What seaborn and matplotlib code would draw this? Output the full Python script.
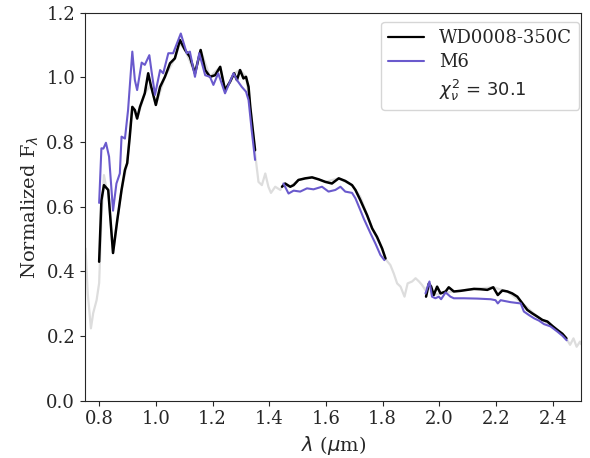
import seaborn as sns
import matplotlib.pyplot as plt
from matplotlib.lines import Line2D

# full (telluric-included) spectrum, light gray
full_wave = [0.752, 0.760, 0.771, 0.779, 0.791, 0.800, 0.808, 0.817, 0.825, 0.832, 0.849,
             0.864, 0.879, 0.899, 0.917, 0.934, 0.961, 0.982, 1.000, 1.032, 1.067, 1.085,
             1.103, 1.138, 1.158, 1.191, 1.227, 1.244, 1.276, 1.297, 1.318, 1.333, 1.350,
             1.362, 1.374, 1.386, 1.397, 1.406, 1.421, 1.439, 1.448, 1.474, 1.503, 1.551,
             1.598, 1.645, 1.692, 1.721, 1.763, 1.798, 1.810, 1.827, 1.839, 1.851, 1.863,
             1.877, 1.888, 1.904, 1.916, 1.928, 1.939, 1.951, 1.963, 1.980, 2.004, 2.051,
             2.122, 2.190, 2.240, 2.293, 2.346, 2.399, 2.434, 2.450, 2.461, 2.473, 2.484,
             2.496, 2.500]
full_flux = [0.471, 0.330, 0.224, 0.271, 0.311, 0.364, 0.560, 0.698, 0.660, 0.652, 0.457,
             0.559, 0.652, 0.735, 0.909, 0.873, 0.951, 0.977, 0.915, 1.002, 1.059, 1.105,
             1.085, 1.013, 1.085, 1.002, 1.033, 0.961, 1.013, 1.023, 1.002, 0.909, 0.765,
             0.677, 0.667, 0.703, 0.662, 0.643, 0.662, 0.652, 0.667, 0.662, 0.683, 0.691,
             0.677, 0.688, 0.667, 0.631, 0.533, 0.471, 0.438, 0.420, 0.394, 0.363, 0.353,
             0.322, 0.363, 0.369, 0.379, 0.369, 0.358, 0.342, 0.363, 0.327, 0.332, 0.338,
             0.346, 0.351, 0.338, 0.301, 0.260, 0.231, 0.207, 0.189, 0.173, 0.193, 0.167,
             0.183, 0.175]

# WD0008-350C observed spectrum, three bands
wd_wave1 = [0.800, 0.808, 0.817, 0.832, 0.849, 0.864, 0.879, 0.891, 0.899, 0.908, 0.917,
            0.926, 0.934, 0.944, 0.961, 0.973, 0.982, 0.991, 1.000, 1.015, 1.032, 1.050,
            1.067, 1.085, 1.103, 1.120, 1.138, 1.158, 1.174, 1.191, 1.209, 1.227, 1.244,
            1.262, 1.276, 1.286, 1.297, 1.309, 1.318, 1.327, 1.333, 1.342, 1.350]
wd_flux1 = [0.430, 0.620, 0.667, 0.652, 0.457, 0.559, 0.652, 0.714, 0.735, 0.817, 0.909,
            0.899, 0.873, 0.909, 0.951, 1.013, 0.977, 0.946, 0.915, 0.971, 1.002, 1.044,
            1.059, 1.116, 1.085, 1.064, 1.013, 1.085, 1.023, 1.002, 1.007, 1.033, 0.961,
            0.987, 1.013, 0.992, 1.023, 0.997, 1.002, 0.971, 0.909, 0.837, 0.775]
wd_wave2 = [1.445, 1.456, 1.474, 1.486, 1.503, 1.527, 1.551, 1.574, 1.598, 1.621, 1.645,
            1.668, 1.692, 1.704, 1.721, 1.745, 1.763, 1.780, 1.798, 1.810]
wd_flux2 = [0.662, 0.672, 0.662, 0.667, 0.683, 0.688, 0.691, 0.685, 0.677, 0.672, 0.688,
            0.680, 0.667, 0.652, 0.621, 0.574, 0.533, 0.507, 0.471, 0.440]
wd_wave3 = [1.953, 1.963, 1.971, 1.980, 1.992, 2.004, 2.022, 2.033, 2.051, 2.075, 2.098,
            2.122, 2.145, 2.169, 2.190, 2.206, 2.222, 2.240, 2.257, 2.275, 2.293, 2.310,
            2.328, 2.346, 2.363, 2.381, 2.399, 2.416, 2.434, 2.448]
wd_flux3 = [0.322, 0.363, 0.353, 0.327, 0.353, 0.332, 0.338, 0.351, 0.338, 0.340, 0.343,
            0.346, 0.345, 0.343, 0.351, 0.327, 0.341, 0.338, 0.332, 0.322, 0.301, 0.281,
            0.270, 0.260, 0.250, 0.245, 0.231, 0.219, 0.207, 0.193]

# M6 template
m6_wave1 = [0.800, 0.808, 0.815, 0.824, 0.835, 0.849, 0.861, 0.873, 0.879, 0.891, 0.902,
            0.917, 0.926, 0.934, 0.950, 0.961, 0.977, 0.985, 0.997, 1.015, 1.026, 1.044,
            1.061, 1.088, 1.109, 1.120, 1.138, 1.153, 1.174, 1.191, 1.203, 1.220, 1.244,
            1.274, 1.286, 1.303, 1.318, 1.327, 1.338, 1.350]
m6_flux1 = [0.612, 0.781, 0.780, 0.798, 0.755, 0.588, 0.672, 0.703, 0.817, 0.811, 0.899,
            1.080, 0.992, 0.961, 1.046, 1.039, 1.069, 1.018, 0.946, 1.023, 1.013, 1.075,
            1.075, 1.136, 1.075, 1.080, 1.002, 1.075, 1.007, 1.002, 0.977, 1.013, 0.951,
            1.013, 0.992, 0.971, 0.956, 0.930, 0.837, 0.745]
m6_wave2 = [1.450, 1.468, 1.486, 1.509, 1.533, 1.556, 1.586, 1.609, 1.633, 1.651, 1.668,
            1.692, 1.704, 1.721, 1.733, 1.757, 1.774, 1.792, 1.806]
m6_flux2 = [0.672, 0.641, 0.650, 0.647, 0.657, 0.654, 0.662, 0.647, 0.652, 0.662, 0.647,
            0.643, 0.626, 0.590, 0.564, 0.518, 0.487, 0.451, 0.435]
m6_wave3 = [1.951, 1.965, 1.974, 1.986, 1.998, 2.006, 2.022, 2.039, 2.051, 2.086, 2.134,
            2.181, 2.198, 2.206, 2.216, 2.251, 2.287, 2.298, 2.316, 2.334, 2.351, 2.369,
            2.392, 2.416, 2.434, 2.449]
m6_flux3 = [0.332, 0.369, 0.322, 0.317, 0.322, 0.314, 0.335, 0.322, 0.317, 0.317, 0.316,
            0.314, 0.311, 0.301, 0.311, 0.305, 0.301, 0.276, 0.265, 0.255, 0.248, 0.237,
            0.230, 0.214, 0.201, 0.187]

chi2 = 30.1

sns.set_style("ticks")
plt.rcParams['font.family'] = ['DejaVu Serif']
plt.rcParams['mathtext.fontset'] = 'dejavusans'

fig = plt.figure(figsize=(5.9, 4.58), dpi=100)
ax = fig.add_axes([0.144, 0.125, 0.841, 0.847])

sns.lineplot(x=full_wave, y=full_flux, sort=False, estimator=None, color='#dddddd', lw=1.6, ax=ax)
for w, f in [(wd_wave1, wd_flux1), (wd_wave2, wd_flux2), (wd_wave3, wd_flux3)]:
    sns.lineplot(x=w, y=f, sort=False, estimator=None, color='black', lw=1.8, ax=ax)
for w, f in [(m6_wave1, m6_flux1), (m6_wave2, m6_flux2), (m6_wave3, m6_flux3)]:
    sns.lineplot(x=w, y=f, sort=False, estimator=None, color='#6a5acd', lw=1.5, ax=ax)

ax.set_xlim(0.75, 2.5)
ax.set_ylim(0, 1.2)
ax.set_xticks([0.8, 1.0, 1.2, 1.4, 1.6, 1.8, 2.0, 2.2, 2.4])
ax.set_xlabel(r'$\lambda$ ($\mu$m)', fontsize=14)
ax.set_ylabel(r'Normalized F$_\lambda$', fontsize=14)
ax.tick_params(labelsize=13)

handles = [Line2D([], [], color='black', lw=1.6),
           Line2D([], [], color='#6a5acd', lw=1.5),
           Line2D([], [], color='none')]
labels = ['WD0008-350C', 'M6', r'$\chi^2_\nu$ = ' + str(chi2)]
leg = ax.legend(handles, labels, loc='upper right', bbox_to_anchor=(0.996, 0.977),
                borderaxespad=0, fontsize=13, labelspacing=0.35)
leg.get_texts()[2].set_family('DejaVu Sans')

fig.savefig('out.png', dpi=100)
